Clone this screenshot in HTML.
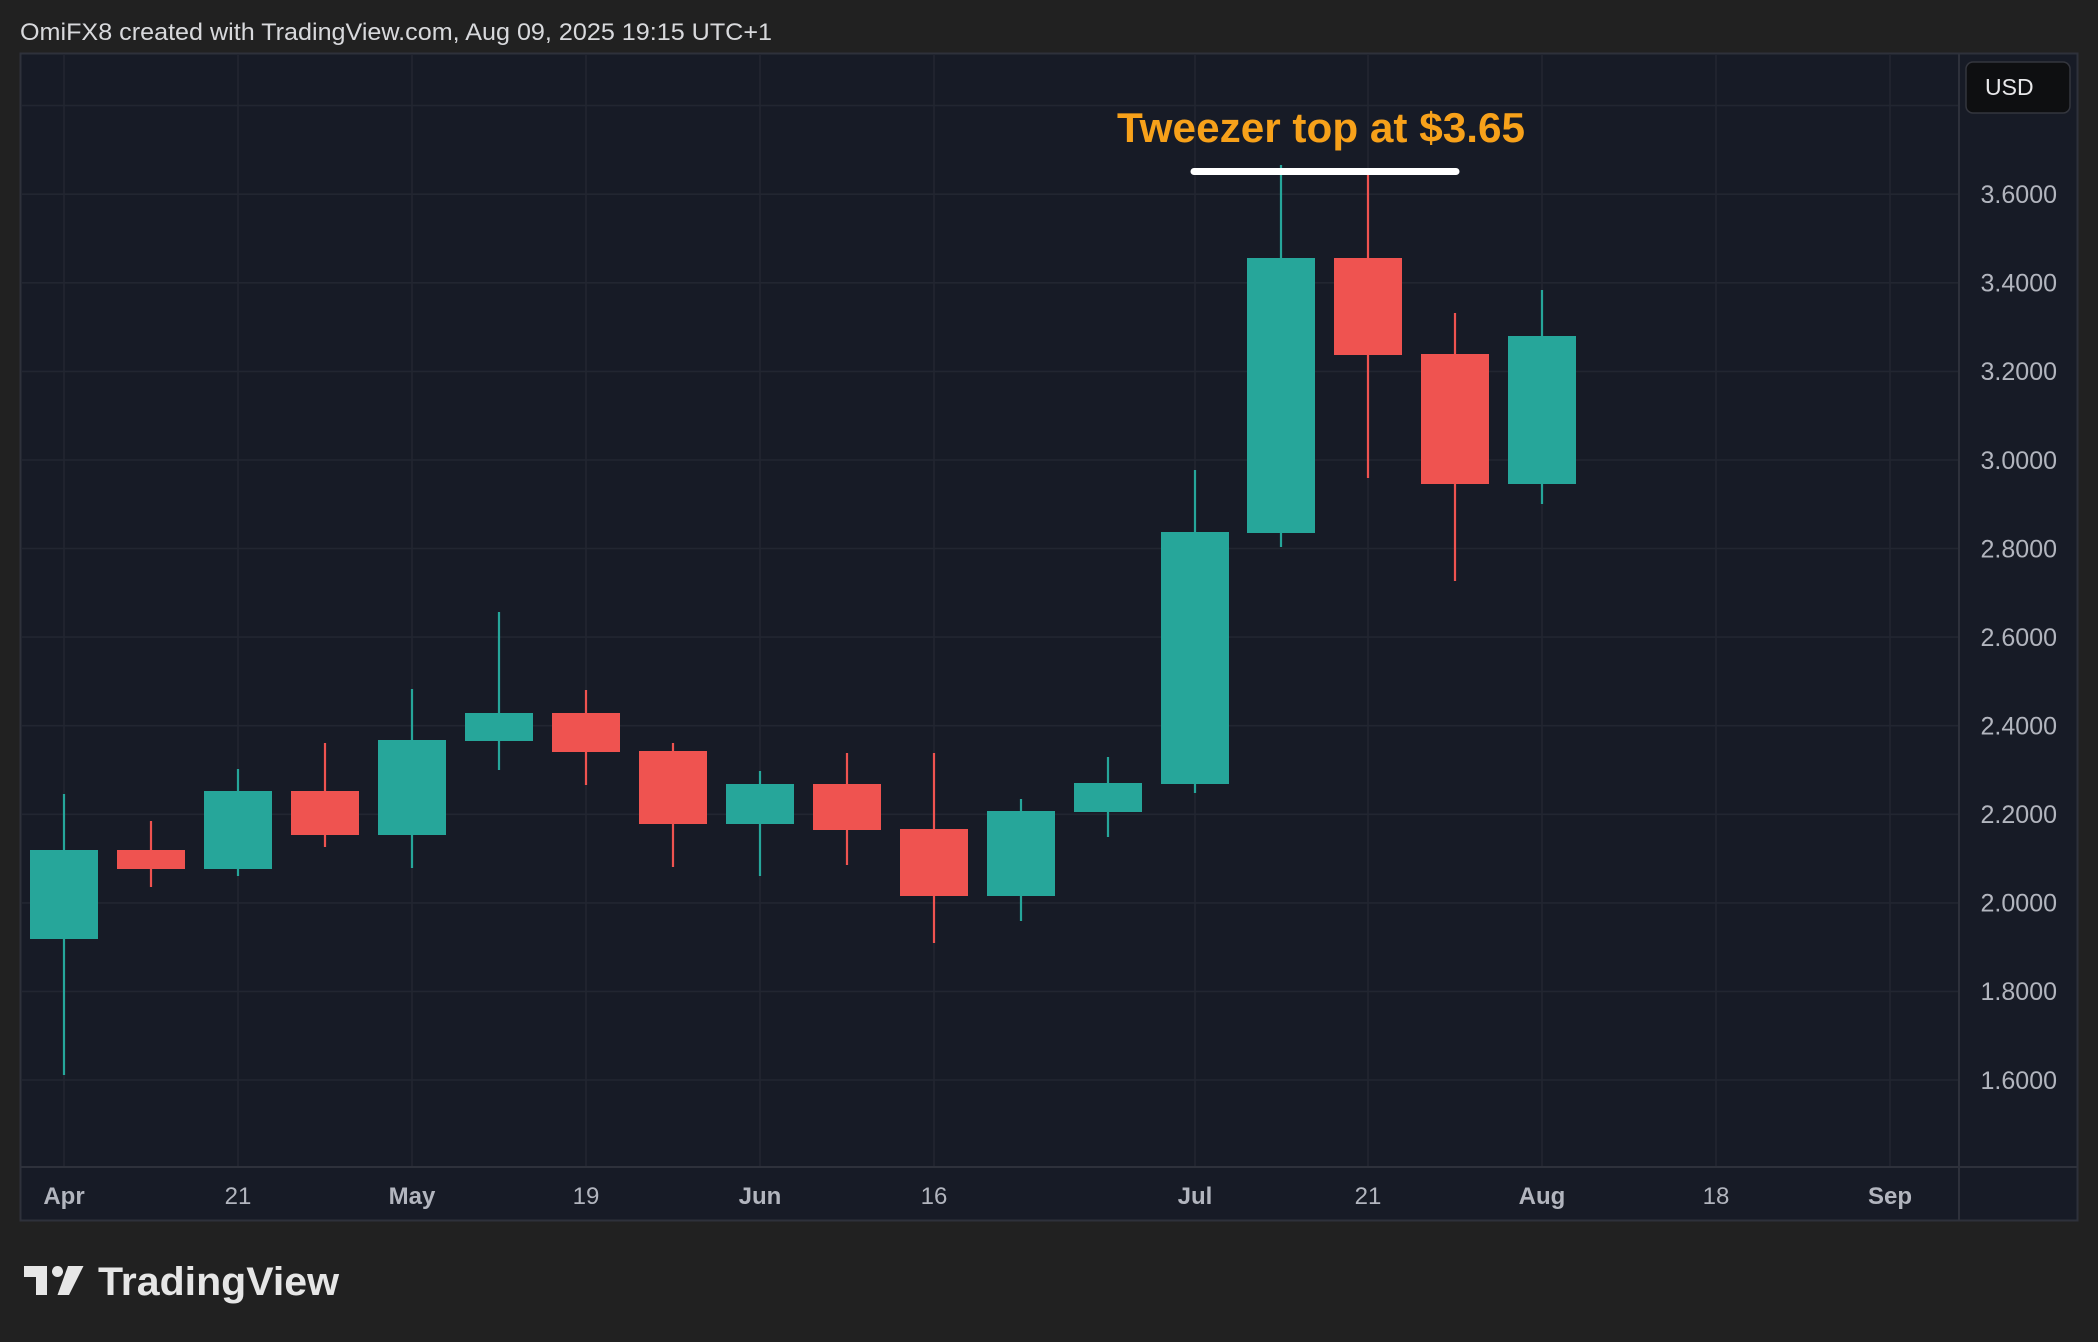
<!DOCTYPE html>
<html>
<head>
<meta charset="utf-8">
<style>
  html,body{margin:0;padding:0;background:#212121;}
  body{width:2098px;height:1342px;overflow:hidden;}
  svg{display:block;}
  text{font-family:"Liberation Sans",Arial,sans-serif;}
</style>
</head>
<body>
<svg width="2098" height="1342" viewBox="0 0 2098 1342" xmlns="http://www.w3.org/2000/svg">
  <rect x="0" y="0" width="2098" height="1342" fill="#212121"/>
  <!-- title -->
  <text x="20" y="40" font-size="24" fill="#d8d9dc" textLength="752" lengthAdjust="spacingAndGlyphs">OmiFX8 created with TradingView.com, Aug 09, 2025 19:15 UTC+1</text>

  <!-- chart frame -->
  <rect x="20.5" y="53.5" width="2057" height="1167" fill="#171b26" stroke="#2e313b" stroke-width="2"/>

  <!-- horizontal grid -->
  <g stroke="#222631" stroke-width="1.6">
    <line x1="21" x2="1958" y1="105.6" y2="105.6"/>
    <line x1="21" x2="1958" y1="194.2" y2="194.2"/>
    <line x1="21" x2="1958" y1="282.8" y2="282.8"/>
    <line x1="21" x2="1958" y1="371.4" y2="371.4"/>
    <line x1="21" x2="1958" y1="460" y2="460"/>
    <line x1="21" x2="1958" y1="548.5" y2="548.5"/>
    <line x1="21" x2="1958" y1="637.1" y2="637.1"/>
    <line x1="21" x2="1958" y1="725.7" y2="725.7"/>
    <line x1="21" x2="1958" y1="814.3" y2="814.3"/>
    <line x1="21" x2="1958" y1="902.9" y2="902.9"/>
    <line x1="21" x2="1958" y1="991.4" y2="991.4"/>
    <line x1="21" x2="1958" y1="1080" y2="1080"/>
  </g>
  <!-- vertical grid -->
  <g stroke="#222631" stroke-width="1.6">
    <line x1="64" x2="64" y1="54" y2="1167"/>
    <line x1="238" x2="238" y1="54" y2="1167"/>
    <line x1="412" x2="412" y1="54" y2="1167"/>
    <line x1="586" x2="586" y1="54" y2="1167"/>
    <line x1="760" x2="760" y1="54" y2="1167"/>
    <line x1="934" x2="934" y1="54" y2="1167"/>
    <line x1="1195" x2="1195" y1="54" y2="1167"/>
    <line x1="1368" x2="1368" y1="54" y2="1167"/>
    <line x1="1542" x2="1542" y1="54" y2="1167"/>
    <line x1="1716" x2="1716" y1="54" y2="1167"/>
    <line x1="1890" x2="1890" y1="54" y2="1167"/>
  </g>

  <!-- axis separators -->
  <line x1="21" x2="2077" y1="1167" y2="1167" stroke="#2e313b" stroke-width="2"/>
  <line x1="1959" x2="1959" y1="54" y2="1220" stroke="#2e313b" stroke-width="2"/>

  <!-- candles -->
  <g id="candles">
    <line x1="64" x2="64" y1="794" y2="1075" stroke="#26a69a" stroke-width="2.2"/>
    <rect x="30" y="850" width="68" height="89" fill="#26a69a"/>
    <line x1="151" x2="151" y1="821" y2="887" stroke="#ef5350" stroke-width="2.2"/>
    <rect x="117" y="850" width="68" height="19" fill="#ef5350"/>
    <line x1="238" x2="238" y1="769" y2="876" stroke="#26a69a" stroke-width="2.2"/>
    <rect x="204" y="791" width="68" height="78" fill="#26a69a"/>
    <line x1="325" x2="325" y1="743" y2="847" stroke="#ef5350" stroke-width="2.2"/>
    <rect x="291" y="791" width="68" height="44" fill="#ef5350"/>
    <line x1="412" x2="412" y1="689" y2="868" stroke="#26a69a" stroke-width="2.2"/>
    <rect x="378" y="740" width="68" height="95" fill="#26a69a"/>
    <line x1="499" x2="499" y1="612" y2="770" stroke="#26a69a" stroke-width="2.2"/>
    <rect x="465" y="713" width="68" height="28" fill="#26a69a"/>
    <line x1="586" x2="586" y1="690" y2="785" stroke="#ef5350" stroke-width="2.2"/>
    <rect x="552" y="713" width="68" height="39" fill="#ef5350"/>
    <line x1="673" x2="673" y1="743" y2="867" stroke="#ef5350" stroke-width="2.2"/>
    <rect x="639" y="751" width="68" height="73" fill="#ef5350"/>
    <line x1="760" x2="760" y1="771" y2="876" stroke="#26a69a" stroke-width="2.2"/>
    <rect x="726" y="784" width="68" height="40" fill="#26a69a"/>
    <line x1="847" x2="847" y1="753" y2="865" stroke="#ef5350" stroke-width="2.2"/>
    <rect x="813" y="784" width="68" height="46" fill="#ef5350"/>
    <line x1="934" x2="934" y1="753" y2="943" stroke="#ef5350" stroke-width="2.2"/>
    <rect x="900" y="829" width="68" height="67" fill="#ef5350"/>
    <line x1="1021" x2="1021" y1="799" y2="921" stroke="#26a69a" stroke-width="2.2"/>
    <rect x="987" y="811" width="68" height="85" fill="#26a69a"/>
    <line x1="1108" x2="1108" y1="757" y2="837" stroke="#26a69a" stroke-width="2.2"/>
    <rect x="1074" y="783" width="68" height="29" fill="#26a69a"/>
    <line x1="1195" x2="1195" y1="470" y2="793" stroke="#26a69a" stroke-width="2.2"/>
    <rect x="1161" y="532" width="68" height="252" fill="#26a69a"/>
    <line x1="1281" x2="1281" y1="165" y2="547" stroke="#26a69a" stroke-width="2.2"/>
    <rect x="1247" y="258" width="68" height="275" fill="#26a69a"/>
    <line x1="1368" x2="1368" y1="171" y2="478" stroke="#ef5350" stroke-width="2.2"/>
    <rect x="1334" y="258" width="68" height="97" fill="#ef5350"/>
    <line x1="1455" x2="1455" y1="313" y2="581" stroke="#ef5350" stroke-width="2.2"/>
    <rect x="1421" y="354" width="68" height="130" fill="#ef5350"/>
    <line x1="1542" x2="1542" y1="290" y2="504" stroke="#26a69a" stroke-width="2.2"/>
    <rect x="1508" y="336" width="68" height="148" fill="#26a69a"/>
  </g>

  <!-- annotation -->
  <line x1="1194" x2="1456" y1="171.5" y2="171.5" stroke="#ffffff" stroke-width="7" stroke-linecap="round"/>
  <text x="1117" y="142" font-size="42" font-weight="bold" fill="#f7a11a" textLength="408" lengthAdjust="spacingAndGlyphs">Tweezer top at $3.65</text>

  <!-- price labels -->
  <g font-size="25" fill="#b2b5be" text-anchor="end">
    <text x="2057" y="203">3.6000</text>
    <text x="2057" y="291.6">3.4000</text>
    <text x="2057" y="380.2">3.2000</text>
    <text x="2057" y="468.8">3.0000</text>
    <text x="2057" y="557.3">2.8000</text>
    <text x="2057" y="645.9">2.6000</text>
    <text x="2057" y="734.5">2.4000</text>
    <text x="2057" y="823.1">2.2000</text>
    <text x="2057" y="911.7">2.0000</text>
    <text x="2057" y="1000.2">1.8000</text>
    <text x="2057" y="1088.8">1.6000</text>
  </g>

  <!-- USD button -->
  <rect x="1966" y="62" width="104" height="51" rx="7" ry="7" fill="#0e0f11" stroke="#34363e" stroke-width="1.5"/>
  <text x="1985" y="95" font-size="23" fill="#e8e8ea">USD</text>

  <!-- time labels -->
  <g font-size="24" fill="#b2b5be" text-anchor="middle">
    <text x="64" y="1204" font-weight="bold">Apr</text>
    <text x="238" y="1204">21</text>
    <text x="412" y="1204" font-weight="bold">May</text>
    <text x="586" y="1204">19</text>
    <text x="760" y="1204" font-weight="bold">Jun</text>
    <text x="934" y="1204">16</text>
    <text x="1195" y="1204" font-weight="bold">Jul</text>
    <text x="1368" y="1204">21</text>
    <text x="1542" y="1204" font-weight="bold">Aug</text>
    <text x="1716" y="1204">18</text>
    <text x="1890" y="1204" font-weight="bold">Sep</text>
  </g>

  <!-- TradingView logo -->
  <g fill="#e6e6e6">
    <path d="M24 1266 H47 V1295 H36 V1277 H24 Z"/>
    <circle cx="57.5" cy="1271.5" r="5.5"/>
    <path d="M68 1266 H83.5 L69 1295 H57.5 Z"/>
    <text x="98" y="1295" font-size="40" font-weight="bold" textLength="241" lengthAdjust="spacingAndGlyphs">TradingView</text>
  </g>
</svg>
</body>
</html>
